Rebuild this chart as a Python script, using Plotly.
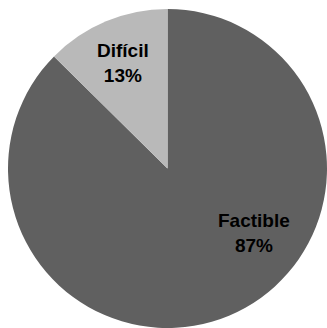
import plotly.graph_objects as go

labels = ["Factible", "Difícil"]
values = [87.4, 12.6]
colors = ["#606060", "#b9b9b9"]
label_pos = [(0.771, 0.297), (0.362, 0.830)]

fig = go.Figure(go.Pie(
    labels=labels, values=values, sort=False, direction="clockwise", rotation=0,
    marker=dict(colors=colors, line=dict(width=0)),
    textinfo="none", hoverinfo="label+percent", showlegend=False,
))

total = sum(values)
for lab, val, (x, y) in zip(labels, values, label_pos):
    fig.add_annotation(
        x=x, y=y, xref="paper", yref="paper", xanchor="center", yanchor="middle",
        text=f"<b>{lab}</b><br><b>{round(100*val/total)}%</b>", showarrow=False,
        font=dict(family="Liberation Sans, Arial", size=19, color="#000000"),
    )

fig.update_layout(
    width=327, height=328, margin=dict(l=8, r=0, t=9, b=0),
    paper_bgcolor="white", plot_bgcolor="white",
)
fig.write_html("out.html")
